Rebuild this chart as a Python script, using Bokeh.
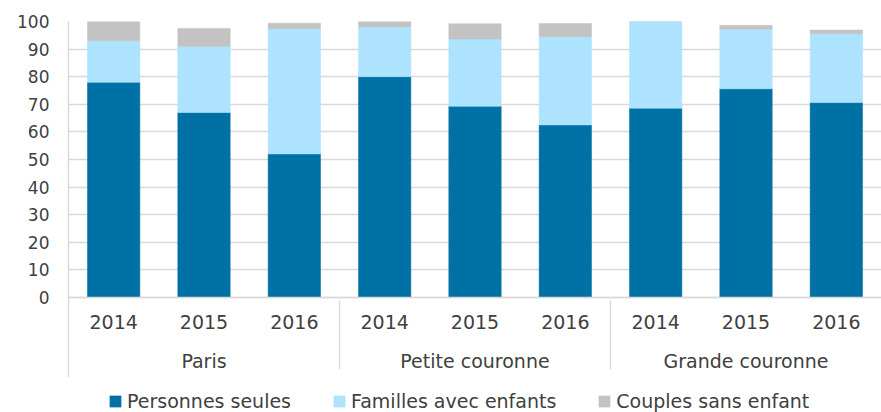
from bokeh.plotting import figure
from bokeh.models import FactorRange, ColumnDataSource, Legend, LegendItem, FixedTicker
from bokeh.embed import file_html
from bokeh.resources import INLINE

regions = ["Paris", "Petite couronne", "Grande couronne"]
years = ["2014", "2015", "2016"]
series = ["Personnes seules", "Familles avec enfants", "Couples sans enfant"]
personnes_seules = [78, 67, 52, 80, 69.3, 62.5, 68.6, 75.6, 70.6]
familles_avec_enfants = [15, 24, 45.4, 18, 24.4, 32, 31.4, 21.6, 25]
couples_sans_enfant = [7, 6.5, 2, 2, 5.5, 4.8, 0, 1.4, 1.3]
y_ticks = [0, 10, 20, 30, 40, 50, 60, 70, 80, 90, 100]
colors = ["#0071a5", "#ade3fe", "#c3c3c3"]

factors = [(r, y) for r in regions for y in years]
source = ColumnDataSource(data=dict(
    x=factors,
    s0=personnes_seules,
    s1=familles_avec_enfants,
    s2=couples_sans_enfant,
))

FONT = "DejaVu Sans"
TXT = "#404040"
GRID = "#d9d9d9"

# frame extends to the bottom of the figure so the axis labels and legend fit inside it
p = figure(
    x_range=FactorRange(*factors, factor_padding=0, group_padding=0, range_padding=0),
    y_range=(-41.7, 100),
    width=881, height=412,
    output_backend="svg", toolbar_location=None,
    min_border_left=68, min_border_top=21, min_border_right=0, min_border_bottom=0,
)

renderers = p.vbar_stack(["s0", "s1", "s2"], x="x", width=0.58, source=source,
                         color=colors, line_color=colors, line_width=0.5)

p.outline_line_color = None
p.xgrid.grid_line_color = None
p.ygrid.grid_line_color = GRID
p.ygrid.grid_line_width = 1.5
p.ygrid.ticker = FixedTicker(ticks=y_ticks)

ya = p.yaxis[0]
ya.ticker = FixedTicker(ticks=y_ticks)
ya.bounds = (-29, 100)
ya.axis_line_color = GRID
ya.axis_line_width = 1.5
ya.major_tick_line_color = None
ya.minor_tick_line_color = None
ya.major_tick_out = 0
ya.major_label_standoff = 19
ya.major_label_text_font = FONT
ya.major_label_text_font_size = "17px"
ya.major_label_text_color = TXT

xa = p.xaxis[0]
xa.fixed_location = 0
xa.axis_line_color = GRID
xa.axis_line_width = 1.5
xa.major_tick_line_color = None
xa.minor_tick_line_color = None
xa.major_tick_out = 0
xa.major_label_standoff = 18
xa.major_label_text_font = FONT
xa.major_label_text_font_size = "19px"
xa.major_label_text_color = TXT
xa.group_text_font = FONT
xa.group_text_font_size = "19px"
xa.group_text_color = TXT
xa.group_text_font_style = "normal"
xa.separator_line_color = GRID
xa.separator_line_width = 1.5

legend = Legend(
    items=[LegendItem(label=s, renderers=[r]) for s, r in zip(series, renderers)],
    orientation="horizontal", location=(40, 0),
    label_text_font=FONT, label_text_font_size="19px", label_text_color=TXT,
    glyph_width=14, glyph_height=14, label_standoff=5, spacing=41,
    border_line_color=None, background_fill_alpha=0, padding=0, margin=0,
)
p.add_layout(legend, "center")

open("out.html", "w").write(file_html(p, INLINE))
